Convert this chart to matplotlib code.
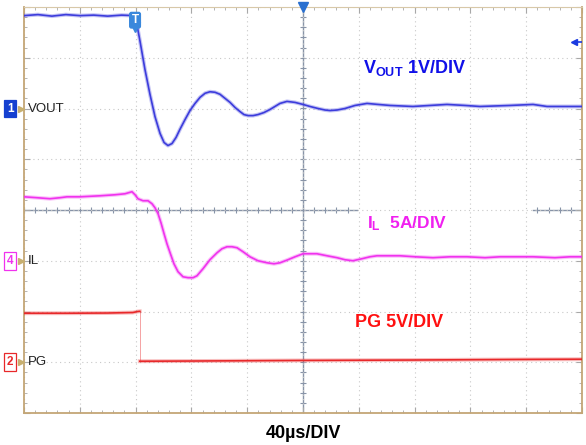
import numpy as np
import matplotlib
matplotlib.use("Agg")
import matplotlib.pyplot as plt

plt.rcParams['font.family'] = ['Liberation Sans', 'DejaVu Sans']
plt.rcParams['mathtext.fontset'] = 'custom'
plt.rcParams['mathtext.rm'] = 'Liberation Sans:bold'
plt.rcParams['mathtext.it'] = 'Liberation Sans:bold'
plt.rcParams['mathtext.bf'] = 'Liberation Sans:bold'

# time in us (40us/div, 10 div)
vout_t = [-200, -190, -180, -170, -160, -150, -140, -130, -121,
          -119.7, -116.8, -113.3, -109.7, -106.1, -102.5, -99.6, -96.8, -93.9, -91.0,
          -88.2, -84.6, -81.0, -77.4, -73.8, -70.2, -66.7, -63.1, -59.5, -55.9,
          -52.3, -48.7, -45.2, -42.3, -39.4, -35.8, -32.3, -28.0, -23.7, -20.1,
          -16.5, -11.5, -5.7, 0, 5.0, 10.8, 15.8, 19.4, 24.4, 30.1,
          37.3, 45.9, 53.8, 62.4, 78.8, 91.0, 103.2, 116.1, 126.9, 148.4,
          164.9, 174.9, 187.8, 200]
vout_v = [1.83, 1.85, 1.82, 1.85, 1.83, 1.84, 1.82, 1.84, 1.83,
          1.75, 1.32, 0.77, 0.28, -0.16, -0.49, -0.67, -0.73, -0.69, -0.57,
          -0.41, -0.22, -0.04, 0.10, 0.22, 0.30, 0.33, 0.32, 0.28, 0.20,
          0.12, 0.02, -0.06, -0.12, -0.14, -0.14, -0.12, -0.08, -0.02, 0.04,
          0.10, 0.14, 0.12, 0.08, 0.04, 0.0, -0.03, -0.04, -0.03, 0.0,
          0.06, 0.10, 0.08, 0.06, 0.04, 0.06, 0.08, 0.06, 0.04, 0.06,
          0.08, 0.04, 0.04, 0.04]

il_t = [-200, -190.7, -181.4, -174.2, -169.2, -159.8, -145.5, -134.8, -127.6, -122.6,
        -120.4, -118.3, -114.7, -111.1, -108.2, -106.1, -103.9, -101.8, -99.6, -97.5,
        -95.3, -92.5, -89.6, -86.0, -82.4, -78.8, -76.0, -71.7, -66.7, -61.6,
        -58.1, -54.5, -50.9, -47.3, -43.0, -38.0, -32.3, -25.8, -20.8, -16.5,
        -10.8, -5.7, 0, 5.0, 10.0, 17.2, 24.4, 30.1, 35.8, 42.3,
        48.0, 53.0, 62.4, 69.5, 80.3, 93.2, 105.4, 117.6, 130.5, 141.2,
        155.5, 164.9, 180.6, 191.4, 200]
il_a = [6.30, 6.21, 6.11, 6.21, 6.30, 6.30, 6.40, 6.50, 6.60, 6.80,
        6.50, 6.11, 5.91, 5.91, 5.61, 5.22, 4.63, 3.74, 2.66, 1.67,
        0.79, -0.30, -1.08, -1.58, -1.67, -1.67, -1.48, -0.79, 0.10, 0.79,
        1.18, 1.38, 1.38, 1.28, 0.89, 0.39, 0.0, -0.20, -0.30, -0.20,
        0.10, 0.39, 0.69, 0.69, 0.69, 0.49, 0.30, 0.10, 0.0, 0.20,
        0.39, 0.49, 0.49, 0.49, 0.39, 0.30, 0.39, 0.39, 0.30, 0.39,
        0.39, 0.39, 0.30, 0.39, 0.39]

pg_t = [-200, -170, -140, -122, -118.5, -117, -117, -80, -40, 0, 40, 80, 120, 160, 200]
pg_v = [4.83, 4.83, 4.85, 4.90, 5.00, 5.02, 0.10, 0.12, 0.15, 0.18, 0.20, 0.22, 0.25, 0.28, 0.30]
pg_edge = 5

# channel scale (unit/div) and marker offset (div)
vout_scale, vout_off = 1.0, 2.0
il_scale, il_off = 5.0, -1.0
pg_scale, pg_off = 5.0, -3.0

c_vout = '#3c3cdc'
c_il = '#f032ee'
c_pg = '#e8282a'

fig = plt.figure(figsize=(5.86, 4.45), dpi=100)
ax = fig.add_axes([24/586, 32/445, 558/586, 406/445])
ax.set_xlim(-200, 200)
ax.set_ylim(-4, 4)

# graticule
ax.set_xticks(np.arange(-200, 201, 40))
ax.set_yticks(np.arange(-4, 5, 1))
ax.set_xticks(np.arange(-200, 201, 8), minor=True)
ax.set_yticks(np.arange(-4, 4.01, 0.2), minor=True)
ax.grid(True, which='major', color='#c8c8c8', linestyle=(0, (1, 3)), lw=0.8)
ax.tick_params(which='both', direction='in', top=True, right=True,
               labelbottom=False, labelleft=False, color='#a8a8a8')
ax.tick_params(which='major', length=4)
ax.tick_params(which='minor', length=2.5)
for s in ax.spines.values():
    s.set_color('#c4a676')
    s.set_linewidth(1.3)
ax.spines['top'].set_color('#d8c8a8')
ax.spines['top'].set_linewidth(0.8)

ax.axvline(0, color='#8894a8', lw=1.0, zorder=1)
ax.hlines(np.arange(-4, 4.01, 0.2), -2.2, 2.2, color='#8894a8', lw=0.8, zorder=1)
ax.plot([-200, 38.7], [0, 0], color='#8894a8', lw=1.0, zorder=1)
ax.plot([164.9, 200], [0, 0], color='#8894a8', lw=1.0, zorder=1)
xt = np.arange(-200, 201, 8)
xt = xt[(xt <= 38.7) | (xt >= 164.9)]
ax.vlines(xt, -0.06, 0.06, color='#8894a8', lw=0.8, zorder=1)

# traces
vy = vout_off + np.array(vout_v) / vout_scale
iy = il_off + np.array(il_a) / il_scale
py = pg_off + np.array(pg_v) / pg_scale
for y, t, c in [(vy, vout_t, c_vout), (iy, il_t, c_il)]:
    ax.plot(t, y, color=c, lw=2.8, alpha=0.3, zorder=3)
    ax.plot(t, y, color=c, lw=1.2, zorder=4)
ax.plot(pg_t[pg_edge:pg_edge + 2], py[pg_edge:pg_edge + 2], color=c_pg, lw=0.6, alpha=0.5, zorder=3)
for a, b in [(0, pg_edge + 1), (pg_edge + 1, len(pg_t))]:
    ax.plot(pg_t[a:b], py[a:b], color=c_pg, lw=2.8, alpha=0.3, zorder=3)
    ax.plot(pg_t[a:b], py[a:b], color=c_pg, lw=1.2, zorder=4)

# trigger markers
ax.plot(0, 4, marker='v', color='#2a70d0', ms=7, clip_on=False, zorder=6)
ax.plot(-120.4, 3.6, marker='v', color='#3a88dc', ms=7, zorder=6)
ax.text(-120.4, 3.74, 'T', color='white', fontsize=8.5, fontweight='bold', ha='center', va='center',
        bbox=dict(boxstyle='round,pad=0.15', fc='#3a88dc', ec='#3a88dc'), zorder=7)
ax.plot(194, 3.31, marker='<', color='#1a3ae0', ms=5, clip_on=False, zorder=6)
ax.plot([194, 200], [3.31, 3.31], color='#1a3ae0', lw=1.2, zorder=6)

# channel markers
chans = [('1', 'VOUT', vout_off, '#1540d0', 'white'),
         ('4', 'IL', il_off, 'white', c_il),
         ('2', 'PG', pg_off, 'white', c_pg)]
for num, name, off, fc, tc in chans:
    ec = fc if fc != 'white' else tc
    ax.annotate(num, xy=(0, off), xycoords=('axes fraction', 'data'), xytext=(-10, 0),
                textcoords='offset points', color=tc, fontsize=8.5, fontweight='bold',
                ha='center', va='center', annotation_clip=False,
                bbox=dict(boxstyle='square,pad=0.25', fc=fc, ec=ec, lw=0.9))
    ax.plot(-0.005, off, marker='>', color='#c8b070', ms=4.5, transform=ax.get_yaxis_transform(),
            clip_on=False, zorder=5)
    ax.annotate(name, xy=(0, off), xycoords=('axes fraction', 'data'), xytext=(2.5, 0),
                textcoords='offset points', color='#202020', fontsize=9.5, ha='left', va='center')

# labels
ax.text(43, 2.70, r'V$_{\mathrm{OUT}}$ 1V/DIV', color='#1010e8', fontsize=13, fontweight='bold',
        va='baseline', zorder=7)
ax.text(45.9, -0.355, r'I$_{\mathrm{L}}$  5A/DIV', color='#f020f0', fontsize=12.5, fontweight='bold',
        va='baseline', zorder=7)
ax.text(37.3, -2.31, 'PG 5V/DIV', color='#ff1010', fontsize=13, fontweight='bold',
        va='baseline', zorder=7)
fig.text(303/586, 1 - 433/445, '40µs/DIV', color='black', fontsize=13, fontweight='bold',
         ha='center', va='center')

fig.savefig('out.png', dpi=100)
